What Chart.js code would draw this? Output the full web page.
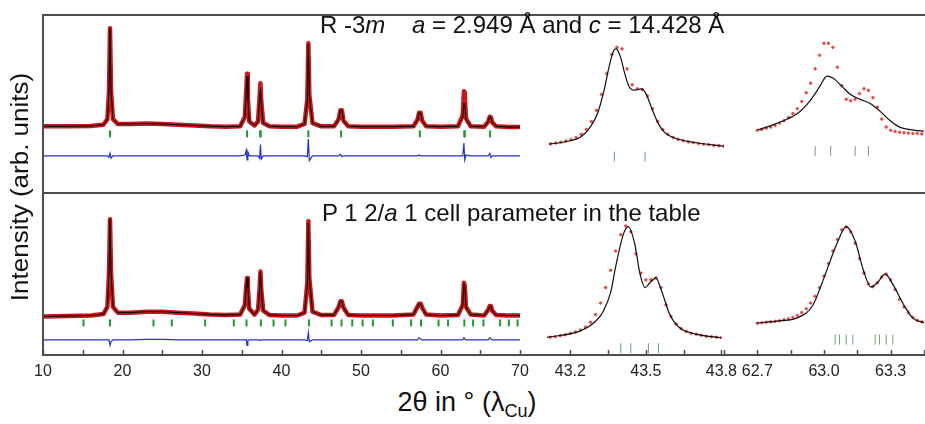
<!DOCTYPE html>
<html>
<head>
<meta charset="utf-8">
<script src="https://cdn.jsdelivr.net/npm/chart.js@4/dist/chart.umd.min.js"></script>
<style>
  body { margin: 0; background: #fff; overflow: hidden; font-family: "Liberation Sans", Arial, sans-serif; }
  #fig { position: relative; width: 925px; height: 424px; overflow: hidden; background: #fff; }
  #fig canvas { position: absolute; }
  .rule { position: absolute; background: #4d4d4d; }
  .txt { position: absolute; white-space: pre; color: #111; font-size: 24px; line-height: 24px; }
  #ytitle { position: absolute; left: 20px; top: 187px; transform: translate(-50%, -50%) rotate(-90deg) scaleY(0.9);
            white-space: pre; font-size: 26px; color: #111; }
  #xtitle { position: absolute; left: 467px; top: 404px; transform: translate(-50%, -50%);
            white-space: pre; font-size: 27px; color: #111; }
  #xtitle sub { font-size: 18px; vertical-align: -6px; }
</style>
</head>
<body>
<div id="fig">
  <canvas id="topMain" width="517" height="178" style="left:23px;top:15px"></canvas>
  <canvas id="topZoomA" width="244" height="178" style="left:500px;top:15px"></canvas>
  <canvas id="topZoomB" width="240" height="178" style="left:704px;top:15px"></canvas>
  <canvas id="botMain" width="517" height="192" style="left:23px;top:193px"></canvas>
  <canvas id="botZoomA" width="244" height="192" style="left:500px;top:193px"></canvas>
  <canvas id="botZoomB" width="240" height="192" style="left:704px;top:193px"></canvas>

  <div class="rule" style="left:42px;top:14px;width:2px;height:342px"></div>
  <div class="rule" style="left:42px;top:14px;width:883px;height:2px"></div>
  <div class="rule" style="left:42px;top:192px;width:883px;height:2px"></div>
  <div class="rule" style="left:42px;top:354px;width:883px;height:2px"></div>

  <div class="txt" style="left:320px;top:13px">R -3<i>m</i>    <i>a</i> = 2.949 Å and <i>c</i> = 14.428 Å</div>
  <div class="txt" style="left:322px;top:201px">P 1 2/<i>a</i> 1 cell parameter in the table</div>
  <div id="ytitle">Intensity (arb. units)</div>
  <div id="xtitle">2θ in ° (λ<sub>Cu</sub>)</div>
</div>

<script>
// Full patterns, 2theta in degrees, intensity in arbitrary units
const mainTheta = [
  10, 13, 16, 17.6, 18.1, 18.3, 18.43, 18.56, 18.8, 19.4,
  21, 23, 25, 27, 29, 31, 33, 34.8, 35.4, 35.57,
  35.67, 35.77, 35.95, 36.6, 37.05, 37.25, 37.35, 37.45, 37.7, 38.5,
  40, 42, 42.9, 43.25, 43.38, 43.5, 43.9, 45, 46.6, 47.2,
  47.4, 47.6, 47.8, 48.4, 50, 52, 54, 56.6, 57.1, 57.3,
  57.5, 57.7, 58.2, 60, 62.2, 62.8, 62.95, 63.05, 63.2, 63.8,
  65.5, 66.0, 66.2, 66.35, 66.5, 67.0, 68.5, 70
];

// R -3m refinement (top)
const topObs = [
  46, 46, 46.5, 48, 55, 90, 169, 90, 55, 49,
  49, 49.5, 49, 48, 47, 46, 45.5, 46, 58, 92,
  112, 82, 52, 47, 52, 84, 100, 78, 50, 46,
  45.5, 45.5, 49, 80, 150, 86, 50, 46, 46, 55,
  66, 66, 53, 46, 45.5, 45.5, 45.5, 46, 54, 63,
  63, 53, 46, 45.5, 46, 60, 90, 88, 56, 46,
  45.5, 52, 58, 57, 51, 46, 45, 45
];
const topCalc = [
  46, 46, 46.5, 48, 55, 90, 169, 90, 55, 49,
  49, 49.5, 49, 48, 47, 46, 45.5, 46, 58, 90,
  109, 80, 52, 47, 52, 80, 93, 75, 50, 46,
  45.5, 45.5, 49, 80, 149, 85, 50, 46, 46, 55,
  66, 66, 53, 46, 45.5, 45.5, 45.5, 46, 54, 63,
  63, 53, 46, 45.5, 46, 58, 75, 73, 55, 46,
  45.5, 52, 58, 57, 51, 46, 45, 45
];
const topDiff = [
  9, 9, 9, 9, 9, 7, 12, 6, 9, 9,
  9, 9, 9, 9, 9, 9, 9, 9, 10, 16,
  4, 14, 9, 9, 9, 6, 23, 5, 9, 9,
  9, 9, 9, 8, 30, 3, 9, 9, 9, 9,
  11, 8, 9, 9, 9, 9, 9, 9, 9, 10,
  9, 9, 9, 9, 9, 9, 25, 4, 10, 9,
  9, 9, 12, 7, 9, 9, 9, 9
];
const topRefl = [18.43, 35.67, 37.32, 37.37, 43.38, 47.5, 57.4, 62.99, 63.05, 66.24];

// P 1 2/a 1 refinement (bottom)
const botObs = [
  40, 40.5, 41, 42.5, 50, 85, 141, 85, 50, 44,
  44, 45, 45, 44, 43, 42, 41.5, 42, 52, 72,
  80, 70, 48, 42, 47, 70, 86.7, 68, 46, 41.5,
  41, 41, 44, 75, 139, 80, 45, 41.5, 41.5, 50,
  55.7, 55.7, 49, 41.5, 41, 41, 41, 42, 50, 53.3,
  53.3, 49, 42, 41, 41.5, 52, 75, 72, 50, 42,
  41, 47, 51, 51, 46, 41.5, 41, 41
];
const botCalc = [
  40, 40.5, 41, 42.5, 50, 85, 141, 85, 50, 44,
  44, 45, 45, 44, 43, 42, 41.5, 42, 52, 72,
  80, 70, 48, 42, 47, 70, 86, 68, 46, 41.5,
  41, 41, 44, 74, 137, 80, 45, 41.5, 41.5, 50,
  55.7, 55.7, 49, 41.5, 41, 41, 41, 42, 50, 53,
  53, 49, 42, 41, 41.5, 52, 74, 71, 50, 42,
  41, 47, 50.5, 50.5, 46, 41.5, 41, 41
];
const botDiff = [
  15.7, 15.7, 15.7, 15.7, 15.7, 16, 10, 14, 15.7, 15.7,
  15.7, 16.2, 16.2, 15.7, 15.7, 15.7, 15.7, 15.7, 15.7, 16,
  10, 15, 15.7, 15.7, 15.7, 15.7, 15, 15.7, 15.7, 15.7,
  15.7, 15.7, 15.7, 15, 23.3, 13.7, 15.7, 15.7, 15.7, 15.7,
  15.7, 15.7, 15.7, 15.7, 15.7, 15.7, 15.7, 15.7, 15.7, 18,
  16.5, 15.7, 15.7, 15.7, 15.7, 15.7, 18, 16.5, 15.7, 15.7,
  15.7, 15.7, 18, 16.5, 15.7, 15.7, 15.7, 15.7
];
const botRefl = [
  15.1, 18.43, 23.9, 26.2, 30.4, 34.0, 35.6, 37.4, 39.0, 40.5,
  43.45, 46.3, 47.55, 48.9, 50.2, 51.5, 54.0, 56.3, 57.55, 59.75,
  60.95, 63.0, 64.1, 65.4, 67.5, 68.6, 69.7
];

// Zoom on the 43.4 deg region
const zoomATheta = [
  43.12, 43.14, 43.16, 43.18, 43.20, 43.22, 43.24, 43.26, 43.28, 43.30,
  43.32, 43.34, 43.36, 43.38, 43.40, 43.42, 43.44, 43.46, 43.48, 43.50,
  43.52, 43.54, 43.56, 43.58, 43.60, 43.62, 43.64, 43.66, 43.68, 43.70,
  43.72, 43.74, 43.76, 43.78, 43.80
];
const topZoomAObs = [
  24, 25, 26, 27.5, 29.5, 32, 36, 42, 52, 66,
  86, 112, 136, 145, 143, 118, 98, 93, 92, 84,
  68, 52, 42, 36, 32, 29.5, 28, 26.5, 25.5, 24.5,
  23.5, 23, 22, 21.5, 21
];
const topZoomACalcTheta = [43.114, 43.173, 43.239, 43.278, 43.305, 43.331, 43.351, 43.368, 43.377, 43.394,
  43.41, 43.427, 43.449, 43.476, 43.495, 43.515, 43.542, 43.568, 43.607, 43.673, 43.808];
const topZoomACalc = [23.7, 26.3, 33, 46.3, 63, 93, 123, 141.3, 143, 133,
  113, 96.3, 91.3, 93, 86.3, 69.7, 49.7, 38, 31.3, 26.3, 20.7];
const topZoomARefl = [43.37, 43.49];

const botZoomAObs = [
  18.5, 19, 20, 21, 22.5, 24, 26, 29, 34, 42,
  54, 70, 88, 108, 125, 134, 128, 105, 85, 78,
  78, 80, 70, 52, 40, 32, 27.5, 24.5, 22.5, 21.5,
  20.5, 19.5, 19, 18.5, 18
];
const botZoomACalcTheta = [43.107, 43.24, 43.30, 43.33, 43.36, 43.38, 43.41, 43.43, 43.456, 43.476,
  43.496, 43.516, 43.54, 43.56, 43.595, 43.634, 43.70, 43.805];
const botZoomACalc = [18.3, 25, 35, 45, 65, 91.7, 125, 133.3, 115, 85,
  70, 75, 80, 68.3, 42, 28.3, 21.7, 17.7];
const botZoomARefl = [43.40, 43.44, 43.51, 43.55];

// Zoom on the 63 deg region
const zoomBTheta = [
  62.70, 62.72, 62.74, 62.76, 62.78, 62.80, 62.82, 62.84, 62.86, 62.88,
  62.90, 62.92, 62.94, 62.96, 62.98, 63.00, 63.02, 63.04, 63.06, 63.08,
  63.10, 63.12, 63.14, 63.16, 63.18, 63.20, 63.22, 63.24, 63.26, 63.28,
  63.30, 63.32, 63.34, 63.36, 63.38, 63.40, 63.42, 63.44
];
const topZoomBObs = [
  41, 42, 43.5, 45, 47, 50, 53, 57, 62, 68,
  77, 88, 100, 118, 135, 150, 150, 145, 120, 97,
  80, 78, 80, 87, 93, 91, 82, 70, 55, 45,
  41, 39.5, 38.5, 38, 37.5, 37, 37, 36.5
];
const topZoomBCalcTheta = [62.702, 62.787, 62.877, 62.937, 62.982, 63.013, 63.042, 63.08, 63.118, 63.163,
  63.208, 63.253, 63.298, 63.343, 63.403, 63.455];
const topZoomBCalc = [41.3, 49.7, 61.3, 78, 96.3, 109, 106.3, 96.3, 86.3, 79.7,
  74.7, 64.7, 53, 44.7, 41.3, 39.7];
const topZoomBRefl = [62.96, 63.03, 63.14, 63.20];

const botZoomBObs = [
  33, 33.5, 34, 34.5, 35, 35.5, 36.5, 37.5, 39, 41,
  44, 48, 54, 61, 70, 82, 95, 108, 120, 130,
  133, 128, 116, 100, 85, 74, 71, 75, 81, 84,
  78, 68, 58, 50, 44, 39, 36, 34.5
];
const botZoomBCalcTheta = [62.70, 62.80, 62.877, 62.95, 62.997, 63.057, 63.10, 63.14, 63.177, 63.21,
  63.24, 63.275, 63.31, 63.36, 63.40, 63.455];
const botZoomBCalc = [33.3, 35.5, 38.3, 51.7, 78.3, 115, 133.3, 118.3, 88.3, 70.7,
  75, 84, 73.3, 51.7, 38.3, 33.3];
const botZoomBRefl = [63.05, 63.07, 63.10, 63.13, 63.23, 63.25, 63.28, 63.31];

// Bottom axis ticks
const mainTickValues = [10, 15, 20, 25, 30, 35, 40, 45, 50, 55, 60, 65, 70];
const mainTickLabels = ['10', '', '20', '', '30', '', '40', '', '50', '', '60', '', '70'];
const zoomATickValues = [43.2, 43.35, 43.5, 43.65, 43.8];
const zoomATickLabels = ['43.2', '', '43.5', '', '43.8'];
const zoomBTickValues = [62.55, 62.7, 62.85, 63.0, 63.15, 63.3, 63.45];
const zoomBTickLabels = ['', '62.7', '', '63.0', '', '63.3', ''];

const RED = '#c41a1a';
const DOT_RED = '#e24a44';
const GREEN = '#1f9a2a';
const BLUE = '#2233c4';

function pts(xs, ys) {
  return xs.map((x, i) => ({ x: x, y: ys[i] }));
}

function reflPts(xs, level) {
  return xs.map(x => ({ x: x, y: level }));
}

// ticks drawn inward from the bottom axis line
const inwardTicks = {
  id: 'inwardTicks',
  afterDraw(chart) {
    const sc = chart.scales.x;
    if (!sc.options.display) return;
    const ctx = chart.ctx;
    ctx.save();
    ctx.strokeStyle = '#4d4d4d';
    ctx.lineWidth = 1.5;
    sc.ticks.forEach(t => {
      const px = Math.round(sc.getPixelForValue(t.value)) + 0.5;
      ctx.beginPath();
      ctx.moveTo(px, sc.top);
      ctx.lineTo(px, sc.top - 5);
      ctx.stroke();
    });
    ctx.restore();
  }
};

function drawPanel(id, p) {
  const xScale = {
    type: 'linear',
    min: p.min,
    max: p.max,
    display: !!p.tickValues,
    border: { display: false },
    grid: { display: false, drawTicks: false },
    ticks: {
      autoSkip: false,
      maxRotation: 0,
      padding: 7,
      color: '#222',
      font: { family: 'Liberation Sans, Arial, sans-serif', size: 16 },
      callback: (v, i) => p.tickLabels ? p.tickLabels[i] : ''
    },
    afterBuildTicks: (scale) => {
      if (p.tickValues) scale.ticks = p.tickValues.map(v => ({ value: v }));
    },
    afterFit: (scale) => { scale.height = 30; }
  };

  return new Chart(document.getElementById(id), {
    type: 'scatter',
    data: { datasets: p.datasets },
    options: {
      responsive: false,
      animation: false,
      events: [],
      layout: { padding: { left: 20, right: 20, top: 0, bottom: 0 } },
      plugins: { legend: { display: false }, tooltip: { enabled: false } },
      scales: {
        x: xScale,
        y: { display: false, min: 0, max: p.ymax }
      }
    },
    plugins: [inwardTicks]
  });
}

function mainSets(obs, calc, diff, refl, reflLevel) {
  return [
    { data: pts(mainTheta, calc), showLine: true, borderColor: '#000', borderWidth: 1, pointRadius: 0, order: 0 },
    { data: pts(mainTheta, obs), showLine: true, borderColor: RED, borderWidth: 4.5, pointRadius: 0,
      borderJoinStyle: 'round', borderCapStyle: 'round', order: 1 },
    { data: pts(mainTheta, diff), showLine: true, borderColor: BLUE, borderWidth: 1.2, pointRadius: 0, order: 2 },
    { data: reflPts(refl, reflLevel), pointStyle: 'line', rotation: 90, pointRadius: 3.5,
      borderColor: GREEN, borderWidth: 2, order: 3 }
  ];
}

function zoomSets(obsTheta, obs, calcTheta, calc, refl, reflLevel) {
  return [
    { data: pts(calcTheta, calc), showLine: true, borderColor: '#111', borderWidth: 1.2,
      cubicInterpolationMode: 'monotone', pointRadius: 0, order: 0 },
    { data: pts(obsTheta, obs), pointStyle: 'circle', pointRadius: 1.3, borderWidth: 0.8,
      borderColor: DOT_RED, backgroundColor: DOT_RED, order: 1 },
    { data: reflPts(refl, reflLevel), pointStyle: 'line', rotation: 90, pointRadius: 5,
      borderColor: '#6f9f73', borderWidth: 1, order: 2 }
  ];
}

drawPanel('topMain', { min: 10, max: 70, ymax: 178,
  datasets: mainSets(topObs, topCalc, topDiff, topRefl, 36.5) });
drawPanel('topZoomA', { min: 43.0, max: 43.8, ymax: 178,
  datasets: zoomSets(zoomATheta, topZoomAObs, topZoomACalcTheta, topZoomACalc, topZoomARefl, 8) });
drawPanel('topZoomB', { min: 62.55, max: 63.45, ymax: 178,
  datasets: zoomSets(zoomBTheta, topZoomBObs, topZoomBCalcTheta, topZoomBCalc, topZoomBRefl, 15) });

drawPanel('botMain', { min: 10, max: 70, ymax: 162,
  tickValues: mainTickValues, tickLabels: mainTickLabels,
  datasets: mainSets(botObs, botCalc, botDiff, botRefl, 33.3) });
drawPanel('botZoomA', { min: 43.0, max: 43.8, ymax: 162,
  tickValues: zoomATickValues, tickLabels: zoomATickLabels,
  datasets: zoomSets(zoomATheta, botZoomAObs, botZoomACalcTheta, botZoomACalc, botZoomARefl, 7) });
drawPanel('botZoomB', { min: 62.55, max: 63.45, ymax: 162,
  tickValues: zoomBTickValues, tickLabels: zoomBTickLabels,
  datasets: zoomSets(zoomBTheta, botZoomBObs, botZoomBCalcTheta, botZoomBCalc, botZoomBRefl, 16) });
</script>
</body>
</html>
